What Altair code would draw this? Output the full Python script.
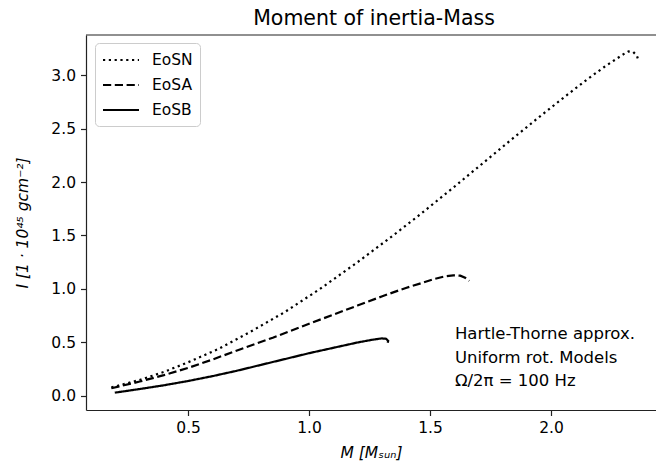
import altair as alt
import pandas as pd

# ---- data ----
eosn_m = [0.183, 0.30, 0.40, 0.50, 0.624, 0.75, 0.90, 1.045, 1.20, 1.35, 1.458, 1.60, 1.75,
          1.83, 1.95, 2.05, 2.15, 2.22, 2.27, 2.30, 2.32, 2.34, 2.355, 2.36]
eosn_i = [0.080, 0.150, 0.225, 0.315, 0.438, 0.590, 0.785, 1.000, 1.250, 1.505, 1.695, 1.955, 2.235,
          2.385, 2.605, 2.785, 2.960, 3.075, 3.150, 3.195, 3.220, 3.215, 3.180, 3.145]

eosa_m = [0.183, 0.30, 0.40, 0.50, 0.60, 0.714, 0.85, 1.00, 1.10, 1.20, 1.30, 1.40, 1.458,
          1.52, 1.56, 1.596, 1.625, 1.645, 1.662]
eosa_i = [0.072, 0.135, 0.195, 0.262, 0.340, 0.435, 0.545, 0.675, 0.760, 0.845, 0.930, 1.010, 1.050,
          1.095, 1.117, 1.128, 1.125, 1.105, 1.075]

eosb_m = [0.197, 0.30, 0.40, 0.50, 0.60, 0.70, 0.80, 0.90, 1.00, 1.10, 1.20, 1.26, 1.30,
          1.318, 1.327, 1.325]
eosb_i = [0.031, 0.065, 0.100, 0.140, 0.185, 0.235, 0.290, 0.345, 0.400, 0.450, 0.500, 0.525, 0.538,
          0.535, 0.515, 0.498]

series_names = ["EoSN", "EoSA", "EoSB"]
x_ticks = [0.5, 1.0, 1.5, 2.0]
y_ticks = [0.0, 0.5, 1.0, 1.5, 2.0, 2.5, 3.0]
note_lines = ["Hartle-Thorne approx.", "Uniform rot. Models", "Ω/2π = 100 Hz"]
note_pos = {"M": 1.603, "I": 0.53}

rows = []
for name, ms, vals in zip(series_names, [eosn_m, eosa_m, eosb_m], [eosn_i, eosa_i, eosb_i]):
    for k, (m, v) in enumerate(zip(ms, vals)):
        rows.append({"eos": name, "M": m, "I": v, "k": k})
df = pd.DataFrame(rows)

W, H = 570, 375
FONT = "DejaVu Sans"
INK = "#000000"

xscale = alt.Scale(domain=[0.078, 2.434], nice=False, zero=False)
yscale = alt.Scale(domain=[-0.131, 3.374], nice=False, zero=False)

lines = alt.Chart(df).mark_line(color=INK, strokeWidth=2.2).encode(
    x=alt.X("M:Q", scale=xscale,
            axis=alt.Axis(values=x_ticks, format=".1f", title="M [Mₛᵤₙ]",
                          titleFontStyle="italic", titlePadding=9)),
    y=alt.Y("I:Q", scale=yscale,
            axis=alt.Axis(values=y_ticks, format=".1f", title="I [1 · 10⁴⁵ gcm⁻²]",
                          titleFontStyle="italic", titleX=-56, titleY=H / 2,
                          titleAngle=270, titleBaseline="bottom", titleAlign="center")),
    strokeDash=alt.StrokeDash(
        "eos:N",
        scale=alt.Scale(domain=series_names, range=[[2.2, 3.6], [8.2, 3.6], [1, 0]]),
        legend=alt.Legend(
            title=None, orient="none", legendX=9, legendY=8,
            symbolType="M-1,0L3,0", symbolSize=324, symbolStrokeWidth=2,
            symbolStrokeColor=INK, symbolFillColor="transparent",
            labelFont=FONT, labelFontSize=15.5, labelColor=INK, labelOffset=30,
            rowPadding=6, padding=7, strokeColor="#cccccc", fillColor="#ffffff",
            cornerRadius=4,
        ),
    ),
    order="k:Q",
)

frame_top = alt.Chart(pd.DataFrame({"f": [0]})).mark_rule(color="#222222", strokeWidth=1.2).encode(
    x=alt.value(0), x2=alt.value(W), y=alt.value(0)
)

note = alt.Chart(pd.DataFrame({"n": [0]})).mark_text(
    text=note_lines, align="left", baseline="alphabetic", font=FONT, fontSize=16.5,
    lineHeight=23.5, color=INK,
).encode(x=alt.datum(note_pos["M"]), y=alt.datum(note_pos["I"]))

chart = alt.layer(lines, note, frame_top).properties(
    width=W, height=H,
    title=alt.TitleParams("Moment of inertia-Mass", font=FONT, fontSize=20.5, fontWeight="normal",
                          color=INK, anchor="middle", baseline="bottom", offset=5, dy=20, dx=3),
    autosize=alt.AutoSizeParams(type="none"),
    padding={"left": 86, "top": 35, "right": 0, "bottom": 59},
).configure_view(stroke=None).configure_axis(
    grid=False, labelFont=FONT, titleFont=FONT, labelFontSize=15.5, titleFontSize=15.5,
    labelColor=INK, titleColor=INK, titleFontWeight="normal",
    domainColor="#222222", domainWidth=1.2, tickColor="#222222", tickWidth=1.2,
    tickSize=5.5, labelPadding=5,
)

chart.save("out.html", embed_options={"renderer": "svg", "actions": False})
